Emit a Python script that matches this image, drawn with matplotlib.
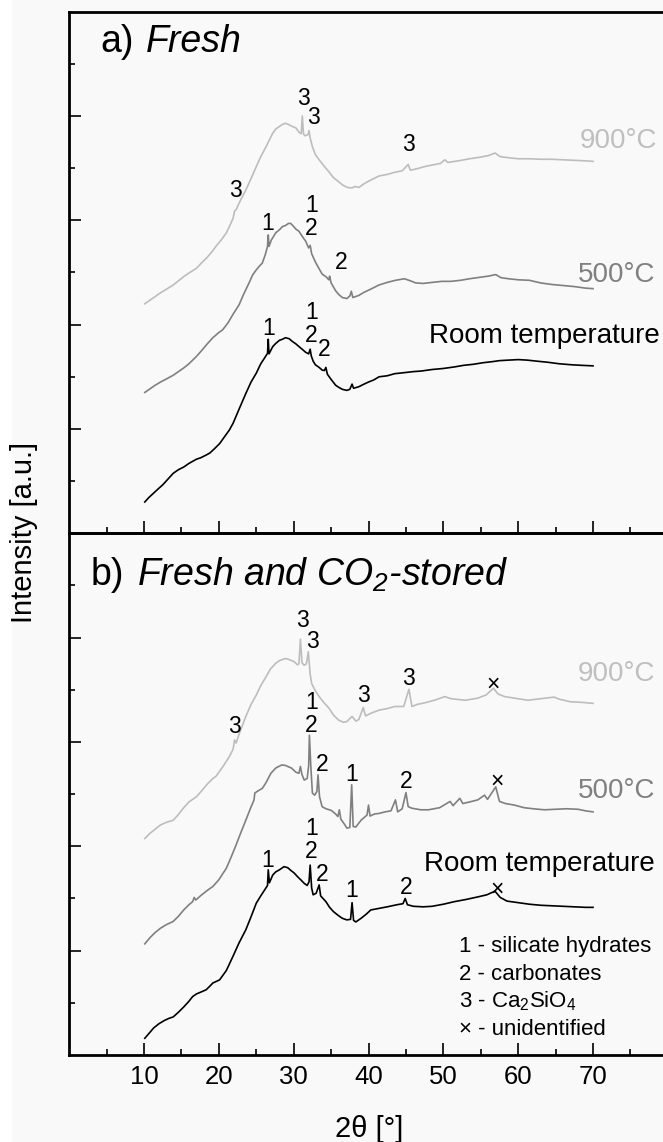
import matplotlib.pyplot as plt
from matplotlib.patches import Rectangle

plt.rcParams['font.family'] = ['Liberation Sans', 'DejaVu Sans']
plt.rcParams['mathtext.fontset'] = 'custom'
plt.rcParams['mathtext.rm'] = 'Liberation Sans'
plt.rcParams['mathtext.it'] = 'Liberation Sans:italic'
plt.rcParams['mathtext.default'] = 'regular'

# --- a) Fresh : XRD patterns (2theta [deg], stacked intensity) ---
fresh_rt_x = [10.1, 10.6, 11.2, 11.8, 12.5, 13.2, 13.9, 14.6, 15.3, 16.0, 16.5, 17.0, 17.6,
              18.3, 18.8, 19.4, 20.1, 20.8, 21.4, 21.9, 22.7, 23.6, 24.3, 25.0, 25.6, 26.1,
              26.5, 26.6, 26.7, 27.2, 27.6, 28.1, 28.5, 28.9, 29.4, 29.8, 30.3, 30.7, 31.2,
              31.6, 32.0, 32.2, 32.35, 32.6, 32.9, 33.4, 33.8, 34.1, 34.3, 34.5, 35.0, 35.6,
              36.0, 36.5, 37.1, 37.5, 37.8, 38.0, 38.7, 39.4, 40.0, 40.7, 41.4, 42.5, 43.5,
              44.8, 46.0, 47.0, 48.5, 50.0, 51.5, 52.7, 54.0, 55.3, 56.5, 57.5, 58.7, 60.0,
              61.2, 62.5, 63.9, 65.5, 67.2, 68.5, 70.0]
fresh_rt_y = [0.60, 0.68, 0.76, 0.84, 0.93, 1.04, 1.15, 1.22, 1.27, 1.34, 1.38, 1.42, 1.45,
              1.50, 1.54, 1.62, 1.72, 1.86, 1.98, 2.11, 2.38, 2.68, 2.90, 3.07, 3.25, 3.36,
              3.45, 3.72, 3.44, 3.58, 3.64, 3.70, 3.72, 3.75, 3.73, 3.68, 3.63, 3.58, 3.52,
              3.47, 3.44, 3.53, 3.40, 3.30, 3.23, 3.18, 3.13, 3.12, 3.18, 3.05, 2.95, 2.84,
              2.80, 2.76, 2.74, 2.76, 2.86, 2.78, 2.81, 2.86, 2.90, 2.94, 3.00, 3.02, 3.06,
              3.08, 3.10, 3.11, 3.14, 3.16, 3.19, 3.22, 3.24, 3.27, 3.29, 3.31, 3.32, 3.33,
              3.32, 3.30, 3.28, 3.25, 3.23, 3.22, 3.21]

fresh_500_x = [10.1, 10.8, 11.5, 12.2, 13.0, 13.9, 14.6, 15.3, 16.0, 16.5, 17.0, 17.8, 18.5,
               19.2, 20.0, 20.5, 21.2, 21.9, 22.7, 23.3, 24.1, 24.5, 24.7, 25.0, 25.4, 25.8,
               26.2, 26.5, 26.6, 26.7, 27.0, 27.6, 28.1, 28.5, 28.9, 29.3, 29.6, 30.0, 30.3,
               30.7, 31.2, 31.6, 32.0, 32.2, 32.4, 32.9, 33.4, 33.8, 34.3, 34.7, 34.8, 35.0,
               35.6, 36.0, 36.5, 37.1, 37.5, 37.7, 37.9, 38.7, 39.4, 40.0, 40.7, 41.4, 42.5,
               43.6, 44.8, 45.6, 46.3, 47.3, 48.5, 49.8, 51.0, 52.3, 53.5, 55.0, 56.0, 57.0,
               57.7, 58.7, 60.0, 61.5, 63.0, 64.5, 66.0, 67.5, 69.0, 70.0]
fresh_500_y = [2.70, 2.77, 2.84, 2.90, 2.96, 3.03, 3.10, 3.17, 3.25, 3.32, 3.39, 3.52, 3.64,
               3.75, 3.85, 3.90, 4.03, 4.20, 4.38, 4.58, 4.82, 4.95, 4.99, 5.05, 5.12, 5.18,
               5.34, 5.50, 5.72, 5.50, 5.62, 5.76, 5.82, 5.88, 5.90, 5.94, 5.94, 5.88, 5.83,
               5.79, 5.68, 5.60, 5.47, 5.52, 5.36, 5.20, 5.07, 4.97, 4.92, 4.86, 4.93, 4.80,
               4.65, 4.58, 4.52, 4.50, 4.55, 4.64, 4.52, 4.56, 4.62, 4.66, 4.71, 4.76, 4.81,
               4.85, 4.88, 4.84, 4.80, 4.79, 4.81, 4.83, 4.83, 4.85, 4.88, 4.91, 4.93, 4.96,
               4.90, 4.88, 4.86, 4.85, 4.80, 4.77, 4.75, 4.73, 4.70, 4.69]

fresh_900_x = [10.1, 10.8, 11.5, 12.2, 13.0, 13.9, 14.6, 15.3, 16.0, 17.0, 17.8, 18.5, 19.2,
               19.6, 20.3, 21.0, 21.4, 21.9, 22.1, 22.3, 22.7, 23.6, 24.3, 25.0, 25.6, 26.3,
               27.2, 27.6, 28.1, 28.5, 28.9, 29.4, 29.8, 30.3, 30.7, 31.0, 31.15, 31.3, 31.5,
               31.9, 32.05, 32.2, 32.5, 32.9, 33.4, 34.0, 34.7, 35.3, 36.0, 36.6, 37.2, 37.8,
               38.2, 38.7, 39.4, 40.0, 40.7, 41.4, 42.5, 43.5, 44.5, 45.3, 45.6, 46.5, 47.5,
               48.5, 49.6, 50.2, 50.6, 52.0, 53.5, 54.9, 56.0, 56.9, 57.6, 58.7, 60.0, 61.5,
               63.0, 64.5, 66.0, 67.5, 69.0, 70.0]
fresh_900_y = [4.40, 4.47, 4.54, 4.61, 4.68, 4.76, 4.84, 4.92, 4.99, 5.08, 5.20, 5.30, 5.42,
               5.50, 5.62, 5.76, 5.88, 6.04, 6.18, 6.20, 6.33, 6.58, 6.80, 7.03, 7.22, 7.41,
               7.67, 7.75, 7.80, 7.84, 7.86, 7.83, 7.80, 7.77, 7.69, 7.66, 8.00, 7.66, 7.62,
               7.64, 7.72, 7.58, 7.41, 7.26, 7.16, 7.05, 6.93, 6.82, 6.74, 6.67, 6.63, 6.62,
               6.65, 6.63, 6.70, 6.75, 6.80, 6.85, 6.88, 6.92, 6.95, 7.07, 6.96, 6.99, 7.03,
               7.06, 7.09, 7.16, 7.11, 7.14, 7.18, 7.21, 7.24, 7.29, 7.22, 7.20, 7.18, 7.18,
               7.17, 7.17, 7.16, 7.15, 7.14, 7.13]

# --- b) Fresh and CO2-stored ---
stored_rt_x = [10.1, 10.7, 11.3, 12.0, 12.7, 13.3, 13.9, 14.6, 15.3, 16.0, 16.5, 17.0, 17.5,
               18.3, 18.8, 19.2, 20.1, 21.0, 21.85, 22.7, 23.6, 24.3, 25.0, 25.6, 26.1, 26.5,
               26.6, 26.75, 27.2, 27.6, 28.1, 28.7, 29.2, 29.6, 30.05, 30.5, 31.0, 31.4, 31.8,
               32.05, 32.2, 32.4, 32.6, 33.0, 33.4, 33.6, 34.3, 34.8, 35.3, 35.9, 36.5, 37.1,
               37.6, 37.8, 38.0, 38.3, 39.0, 39.7, 40.3, 41.4, 42.5, 43.8, 44.6, 44.9, 45.2,
               46.0, 47.3, 48.5, 50.0, 51.5, 53.0, 54.6, 55.8, 56.9, 57.6, 58.5, 60.0, 61.5,
               63.0, 64.5, 66.0, 67.5, 69.0, 70.0]
stored_rt_y = [0.32, 0.42, 0.52, 0.60, 0.66, 0.70, 0.73, 0.82, 0.92, 1.03, 1.12, 1.17, 1.20,
               1.25, 1.32, 1.38, 1.44, 1.62, 1.88, 2.15, 2.40, 2.65, 2.91, 3.05, 3.16, 3.25,
               3.55, 3.30, 3.45, 3.51, 3.55, 3.61, 3.59, 3.54, 3.49, 3.42, 3.35, 3.29, 3.25,
               3.32, 3.64, 3.20, 3.07, 3.10, 3.26, 3.05, 2.94, 2.83, 2.75, 2.68, 2.62, 2.59,
               2.60, 2.92, 2.58, 2.55, 2.62, 2.70, 2.78, 2.81, 2.84, 2.88, 2.90, 3.00, 2.88,
               2.85, 2.84, 2.85, 2.89, 2.94, 2.98, 3.03, 3.07, 3.14, 3.02, 2.95, 2.92, 2.89,
               2.87, 2.86, 2.85, 2.84, 2.83, 2.83]

stored_500_x = [10.1, 10.8, 11.5, 12.2, 13.0, 13.9, 14.6, 15.3, 16.0, 16.5, 16.7, 16.9, 17.7,
                18.5, 19.2, 20.0, 21.0, 21.6, 22.2, 22.9, 23.6, 24.2, 24.7, 24.8, 25.2, 25.8,
                26.3, 26.95, 27.6, 28.4, 28.9, 29.7, 30.3, 30.7, 30.9, 31.1, 31.4, 31.8, 32.0,
                32.1, 32.3, 32.5, 32.8, 33.1, 33.25, 33.45, 33.8, 34.3, 35.0, 35.6, 35.9, 36.1,
                36.3, 36.8, 37.1, 37.5, 37.75, 37.95, 38.3, 39.0, 39.8, 40.0, 40.2, 40.8, 41.4,
                42.2, 43.0, 43.6, 43.9, 44.5, 45.0, 45.3, 45.8, 47.0, 48.0, 49.5, 50.9, 51.3,
                52.2, 52.6, 53.5, 54.6, 55.5, 55.9, 57.0, 57.5, 58.3, 59.5, 60.8, 62.0, 63.5,
                65.0, 66.5, 68.0, 69.0, 70.0]
stored_500_y = [2.13, 2.25, 2.35, 2.43, 2.50, 2.56, 2.66, 2.78, 2.88, 2.94, 3.02, 2.97, 3.07,
                3.16, 3.23, 3.36, 3.58, 3.78, 3.99, 4.25, 4.50, 4.72, 4.89, 5.02, 5.06, 5.11,
                5.22, 5.40, 5.50, 5.56, 5.55, 5.50, 5.42, 5.40, 5.53, 5.38, 5.27, 5.30, 5.55,
                6.13, 5.50, 5.02, 4.98, 5.05, 5.37, 4.95, 4.76, 4.72, 4.69, 4.62, 4.57, 4.70,
                4.52, 4.42, 4.35, 4.36, 5.18, 4.38, 4.37, 4.50, 4.60, 4.79, 4.58, 4.62, 4.63,
                4.66, 4.68, 4.89, 4.66, 4.72, 5.03, 4.76, 4.73, 4.70, 4.70, 4.74, 4.86, 4.78,
                4.92, 4.82, 4.85, 4.89, 4.98, 4.90, 5.14, 4.86, 4.82, 4.79, 4.74, 4.72, 4.70,
                4.71, 4.72, 4.71, 4.68, 4.66]

stored_900_x = [10.1, 10.8, 11.5, 12.2, 13.0, 13.9, 14.6, 15.3, 16.0, 17.0, 17.8, 18.5, 19.2,
                19.6, 20.5, 21.4, 21.9, 22.1, 22.3, 22.7, 23.6, 24.3, 25.0, 25.6, 26.3, 26.9,
                27.6, 28.1, 28.9, 29.4, 30.05, 30.5, 30.7, 30.9, 31.1, 31.4, 31.7, 31.95, 32.2,
                32.4, 32.9, 33.4, 34.0, 34.7, 35.3, 36.0, 36.6, 37.1, 37.8, 38.3, 38.7, 39.3,
                39.6, 40.3, 41.4, 42.5, 43.5, 44.7, 45.4, 45.8, 46.5, 47.5, 48.8, 50.2, 51.0,
                52.9, 54.6, 55.7, 56.7, 57.3, 58.2, 59.5, 61.3, 63.0, 64.8, 65.5, 67.0, 68.5,
                70.0]
stored_900_y = [4.15, 4.25, 4.33, 4.41, 4.46, 4.50, 4.61, 4.74, 4.85, 4.95, 5.08, 5.20, 5.30,
                5.34, 5.52, 5.72, 5.86, 6.04, 5.98, 6.15, 6.49, 6.72, 6.90, 7.08, 7.25, 7.40,
                7.51, 7.56, 7.60, 7.58, 7.54, 7.48, 7.50, 7.97, 7.52, 7.47, 7.50, 7.73, 7.30,
                7.12, 6.98, 6.87, 6.76, 6.65, 6.52, 6.42, 6.38, 6.39, 6.49, 6.40, 6.43, 6.66,
                6.50, 6.55, 6.61, 6.64, 6.68, 6.68, 7.01, 6.68, 6.72, 6.75, 6.80, 6.87, 6.83,
                6.80, 6.84, 6.90, 7.03, 6.92, 6.87, 6.84, 6.80, 6.83, 6.86, 6.82, 6.77, 6.76,
                6.74]

# peak assignments: (2theta, height of label baseline, label); "1\n2" = both phases
fresh_peaks = [(31.3, 8.22, '3'), (32.7, 7.84, '3'), (45.3, 7.33, '3'), (22.2, 6.44, '3'),
               (26.5, 5.82, '1'), (32.35, 5.72, '1\n2'), (36.4, 5.07, '2'),
               (26.6, 3.80, '1'), (32.35, 3.66, '1\n2'), (34.1, 3.39, '2')]
stored_peaks = [(31.2, 8.20, '3'), (32.45, 7.81, '3'), (45.3, 7.10, '3'), (39.35, 6.77, '3'),
                (56.7, 6.98, '×'), (22.1, 6.18, '3'), (32.35, 6.20, '1\n2'),
                (33.8, 5.45, '2'), (37.8, 5.26, '1'), (45.05, 5.11, '2'), (57.15, 5.12, '×'),
                (32.35, 3.77, '1\n2'), (26.5, 3.61, '1'), (33.8, 3.33, '2'),
                (37.7, 3.02, '1'), (45.0, 3.09, '2'), (57.15, 3.05, '×')]
legend_lines = ['1 - silicate hydrates', '2 - carbonates', '3 - Ca$_2$SiO$_4$', '× - unidentified']

c900 = '#bdbdbd'
c500 = '#808080'
crt = 'black'

fig = plt.figure(figsize=(6.63, 11.42), dpi=100, facecolor='#f9f9f9')
fig.patches.append(Rectangle((0, 0), 12 / 663, 1, transform=fig.transFigure,
                             facecolor='white', edgecolor='none', zorder=0))

ax_a = fig.add_axes([0.1044, 0.5330, 0.9029, 0.4568])
ax_b = fig.add_axes([0.1044, 0.0762, 0.9029, 0.4568])

for ax in (ax_a, ax_b):
    ax.set_facecolor('none')
    ax.set_xlim(0, 80)
    ax.set_ylim(0, 10)
    for s in ax.spines.values():
        s.set_linewidth(2.0)
    ax.spines['right'].set_visible(False)
    ax.set_xticks(range(10, 71, 10))
    ax.set_xticks(range(5, 80, 10), minor=True)
    ax.set_yticks([2, 4, 6, 8])
    ax.set_yticks([1, 3, 5, 7, 9], minor=True)
    ax.tick_params(which='both', direction='in', top=False, right=False, width=1.2,
                   labelleft=False)
    ax.tick_params(which='major', length=8.5)
    ax.tick_params(which='minor', length=4.5)

ax_a.tick_params(labelbottom=False)
ax_b.tick_params(axis='x', labelsize=18.5, pad=7)

# panel a
ax_a.plot(fresh_900_x, fresh_900_y, color=c900, lw=1.2)
ax_a.plot(fresh_500_x, fresh_500_y, color=c500, lw=1.2)
ax_a.plot(fresh_rt_x, fresh_rt_y, color=crt, lw=1.2)
for x, y, t in fresh_peaks:
    ax_a.text(x, y, t, fontsize=16.5, ha='center', va='baseline', linespacing=1.0)
ax_a.text(78.55, 7.38, '900°C', color='#bfbfbf', fontsize=20, ha='right', va='baseline')
ax_a.text(78.3, 4.82, '500°C', color=c500, fontsize=20, ha='right', va='baseline')
ax_a.text(78.95, 3.65, 'Room temperature', fontsize=20, ha='right', va='baseline')
ax_a.text(4.1, 9.23, 'a)', fontsize=27, va='baseline')
ax_a.text(10.2, 9.23, 'Fresh', fontsize=27, style='italic', va='baseline')

# panel b
ax_b.plot(stored_900_x, stored_900_y, color=c900, lw=1.2)
ax_b.plot(stored_500_x, stored_500_y, color=c500, lw=1.2)
ax_b.plot(stored_rt_x, stored_rt_y, color=crt, lw=1.2)
for x, y, t in stored_peaks:
    ax_b.text(x, y, t, fontsize=16.5, ha='center', va='baseline', linespacing=1.0)
ax_b.text(78.3, 7.17, '900°C', color='#bfbfbf', fontsize=20, ha='right', va='baseline')
ax_b.text(78.3, 4.92, '500°C', color=c500, fontsize=20, ha='right', va='baseline')
ax_b.text(78.3, 3.53, 'Room temperature', fontsize=20, ha='right', va='baseline')
ax_b.text(2.9, 9.0, 'b)', fontsize=27, va='baseline')
ax_b.text(9.0, 9.0, 'Fresh and CO$_2$-stored', fontsize=27, style='italic', va='baseline')
for i, line in enumerate(legend_lines):
    ax_b.text(52.1, 1.97 - 0.53 * i, line, fontsize=16, va='baseline')

fig.text(0.0359, 0.534, 'Intensity [a.u.]', rotation=90, fontsize=21,
         ha='center', va='center')
fig.text(0.5566, 0.0044, '2θ [°]', fontsize=21, ha='center', va='baseline')

fig.savefig('out.png', dpi=100, facecolor=fig.get_facecolor())
